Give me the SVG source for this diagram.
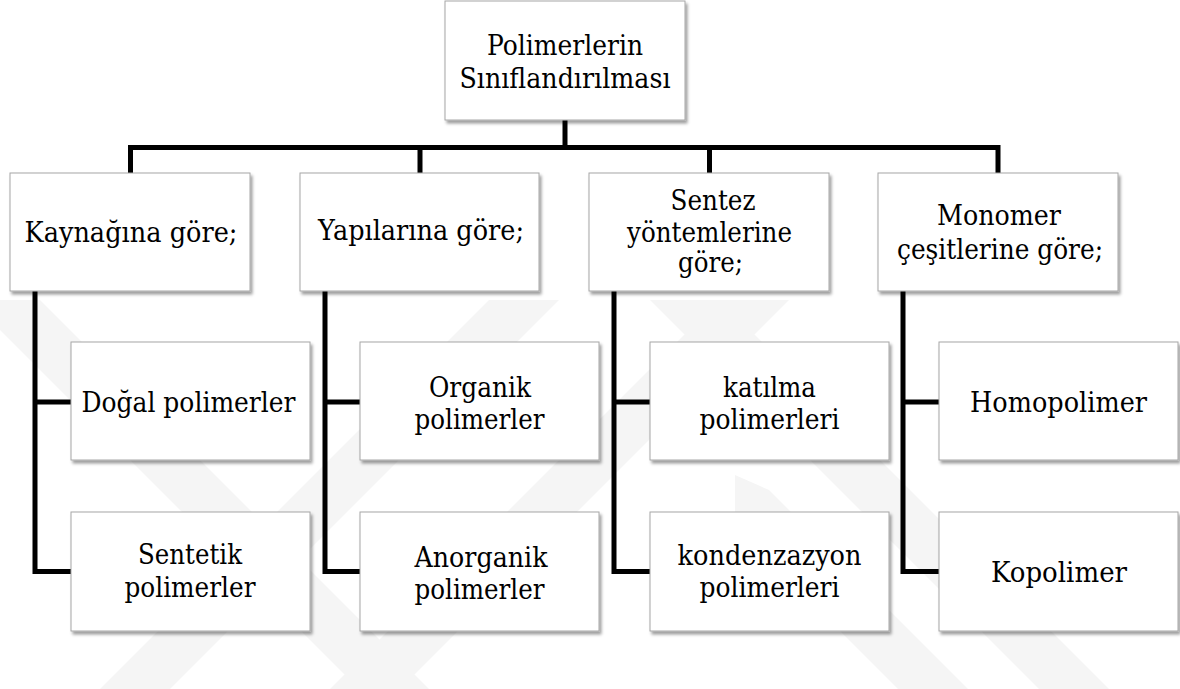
<svg xmlns="http://www.w3.org/2000/svg" width="1180" height="689" viewBox="0 0 1180 689">
  <defs>
    <filter id="shadow" x="-10%" y="-10%" width="125%" height="130%">
      <feDropShadow dx="2" dy="3" stdDeviation="1.6" flood-color="#000" flood-opacity="0.38"/>
    </filter>
    <clipPath id="markArea">
      <rect x="0" y="298" width="1180" height="391"/>
    </clipPath>
  </defs>
  <style>
    .box { fill: #ffffff; stroke: #a6a6a6; stroke-width: 1; filter: url(#shadow); }
    .label { font-family: 'DejaVu Serif', 'Liberation Serif', serif; font-size: 27px; fill: #000; text-anchor: middle; }
    .conn { fill: none; stroke: #000; stroke-width: 5; stroke-linejoin: miter; stroke-linecap: butt; }
    .band { fill: #f5f5f5; }
  </style>
  <rect width="1180" height="689" fill="#ffffff"/>

  <!-- faint diagonal background mark -->
  <g id="backdrop" clip-path="url(#markArea)">
    <polygon class="band" points="-30,300 40,300 429,689 359,689"/>
    <polygon class="band" points="489,300 559,300 170,689 100,689"/>
    <polygon class="band" points="719,300 789,300 400,689 330,689"/>
    <polygon class="band" points="735,475 769,490 968,689 898,689 735,526"/>
    <polygon class="band" points="650,300 720,300 1109,689 1039,689"/>
  </g>

  <!-- connectors -->
  <g id="connectors">
    <path class="conn" d="M565,120 V147.5"/>
    <path class="conn" d="M130.5,173 V147.5 H998 V173"/>
    <path class="conn" d="M420,147.5 V173"/>
    <path class="conn" d="M709.5,147.5 V173"/>
    <!-- column 1 -->
    <path class="conn" d="M35,291 V571.5 H71"/>
    <path class="conn" d="M35,402 H71"/>
    <!-- column 2 -->
    <path class="conn" d="M325,291 V571.5 H360"/>
    <path class="conn" d="M325,402 H360"/>
    <!-- column 3 -->
    <path class="conn" d="M614,291 V571.5 H650"/>
    <path class="conn" d="M614,402 H650"/>
    <!-- column 4 -->
    <path class="conn" d="M903,291 V571.5 H939"/>
    <path class="conn" d="M903,402 H939"/>
  </g>

  <!-- root -->
  <g id="root">
    <rect class="box" x="445" y="1" width="240" height="119"/>
    <text class="label" x="565" y="55" textLength="156" lengthAdjust="spacingAndGlyphs">Polimerlerin</text>
    <text class="label" x="565" y="88" textLength="211" lengthAdjust="spacingAndGlyphs">Sınıflandırılması</text>
  </g>

  <!-- level 1 -->
  <g id="kaynak">
    <rect class="box" x="10" y="173" width="240" height="118"/>
    <text class="label" x="131" y="242" textLength="213" lengthAdjust="spacingAndGlyphs">Kaynağına göre;</text>
  </g>
  <g id="yapi">
    <rect class="box" x="300" y="173" width="239" height="118"/>
    <text class="label" x="421" y="240" textLength="206" lengthAdjust="spacingAndGlyphs">Yapılarına göre;</text>
  </g>
  <g id="sentez">
    <rect class="box" x="589" y="173" width="240" height="118"/>
    <text class="label" x="713" y="209.5" textLength="85" lengthAdjust="spacingAndGlyphs">Sentez</text>
    <text class="label" x="709.5" y="241.5" textLength="165" lengthAdjust="spacingAndGlyphs">yöntemlerine</text>
    <text class="label" x="710.5" y="272" textLength="65" lengthAdjust="spacingAndGlyphs">göre;</text>
  </g>
  <g id="monomer">
    <rect class="box" x="878" y="173" width="240" height="118"/>
    <text class="label" x="999" y="225" textLength="124" lengthAdjust="spacingAndGlyphs">Monomer</text>
    <text class="label" x="1000" y="259" textLength="206" lengthAdjust="spacingAndGlyphs">çeşitlerine göre;</text>
  </g>

  <!-- column 1 children -->
  <g id="dogal">
    <rect class="box" x="71" y="342" width="239" height="118"/>
    <text class="label" x="188.5" y="411.5" textLength="214" lengthAdjust="spacingAndGlyphs">Doğal polimerler</text>
  </g>
  <g id="sentetik">
    <rect class="box" x="71" y="512" width="239" height="119"/>
    <text class="label" x="190" y="564" textLength="104" lengthAdjust="spacingAndGlyphs">Sentetik</text>
    <text class="label" x="190" y="597" textLength="131" lengthAdjust="spacingAndGlyphs">polimerler</text>
  </g>

  <!-- column 2 children -->
  <g id="organik">
    <rect class="box" x="360" y="342" width="239" height="118"/>
    <text class="label" x="480" y="396.5" textLength="102" lengthAdjust="spacingAndGlyphs">Organik</text>
    <text class="label" x="479.5" y="428.5" textLength="130" lengthAdjust="spacingAndGlyphs">polimerler</text>
  </g>
  <g id="anorganik">
    <rect class="box" x="360" y="512" width="239" height="119"/>
    <text class="label" x="481" y="566.5" textLength="133" lengthAdjust="spacingAndGlyphs">Anorganik</text>
    <text class="label" x="479.5" y="598.5" textLength="130" lengthAdjust="spacingAndGlyphs">polimerler</text>
  </g>

  <!-- column 3 children -->
  <g id="katilma">
    <rect class="box" x="650" y="342" width="239" height="118"/>
    <text class="label" x="769.5" y="396.5" textLength="93" lengthAdjust="spacingAndGlyphs">katılma</text>
    <text class="label" x="769.5" y="428.5" textLength="140" lengthAdjust="spacingAndGlyphs">polimerleri</text>
  </g>
  <g id="kondenzasyon">
    <rect class="box" x="650" y="512" width="239" height="119"/>
    <text class="label" x="769.5" y="565" textLength="184" lengthAdjust="spacingAndGlyphs">kondenzazyon</text>
    <text class="label" x="769.5" y="597" textLength="140" lengthAdjust="spacingAndGlyphs">polimerleri</text>
  </g>

  <!-- column 4 children -->
  <g id="homopolimer">
    <rect class="box" x="939" y="342" width="239" height="118"/>
    <text class="label" x="1058.5" y="412" textLength="177" lengthAdjust="spacingAndGlyphs">Homopolimer</text>
  </g>
  <g id="kopolimer">
    <rect class="box" x="939" y="512" width="239" height="119"/>
    <text class="label" x="1059" y="582" textLength="136" lengthAdjust="spacingAndGlyphs">Kopolimer</text>
  </g>
</svg>
